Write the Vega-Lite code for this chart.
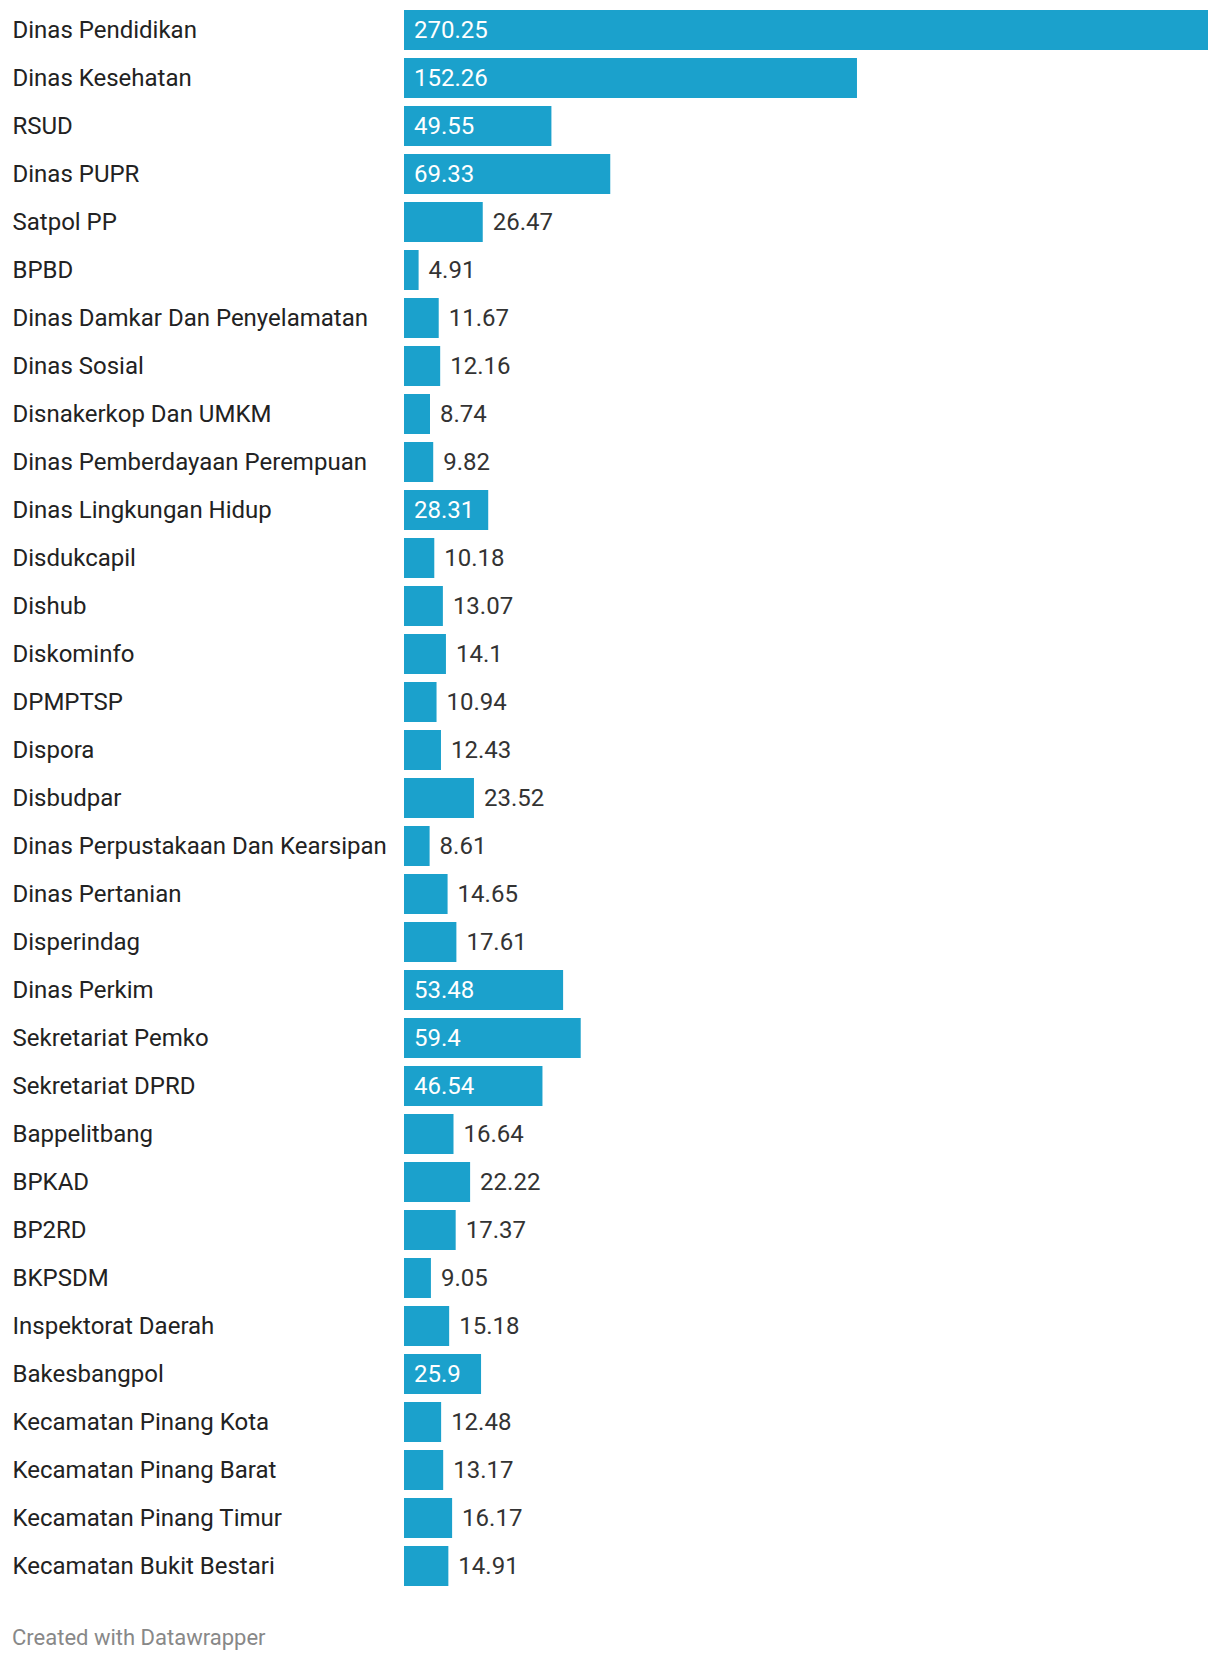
{
  "$schema": "https://vega.github.io/schema/vega-lite/v6.json",
  "width": 804,
  "height": 1584,
  "autosize": {"type": "pad"},
  "padding": {"left": 12, "top": 6, "right": 12, "bottom": 10},
  "background": "white",
  "config": {"view": {"stroke": null}, "font": "Roboto"},
  "title": {
    "text": "Created with Datawrapper",
    "orient": "bottom",
    "anchor": "start",
    "frame": "bounds",
    "font": "Roboto",
    "fontSize": 22,
    "fontWeight": "normal",
    "color": "#888888",
    "baseline": "top",
    "offset": 38
  },
  "data": {
    "values": [
      {"name": "Dinas Pendidikan", "value": 270.25},
      {"name": "Dinas Kesehatan", "value": 152.26},
      {"name": "RSUD", "value": 49.55},
      {"name": "Dinas PUPR", "value": 69.33},
      {"name": "Satpol PP", "value": 26.47},
      {"name": "BPBD", "value": 4.91},
      {"name": "Dinas Damkar Dan Penyelamatan", "value": 11.67},
      {"name": "Dinas Sosial", "value": 12.16},
      {"name": "Disnakerkop Dan UMKM", "value": 8.74},
      {"name": "Dinas Pemberdayaan Perempuan", "value": 9.82},
      {"name": "Dinas Lingkungan Hidup", "value": 28.31},
      {"name": "Disdukcapil", "value": 10.18},
      {"name": "Dishub", "value": 13.07},
      {"name": "Diskominfo", "value": 14.1},
      {"name": "DPMPTSP", "value": 10.94},
      {"name": "Dispora", "value": 12.43},
      {"name": "Disbudpar", "value": 23.52},
      {"name": "Dinas Perpustakaan Dan Kearsipan", "value": 8.61},
      {"name": "Dinas Pertanian", "value": 14.65},
      {"name": "Disperindag", "value": 17.61},
      {"name": "Dinas Perkim", "value": 53.48},
      {"name": "Sekretariat Pemko", "value": 59.4},
      {"name": "Sekretariat DPRD", "value": 46.54},
      {"name": "Bappelitbang", "value": 16.64},
      {"name": "BPKAD", "value": 22.22},
      {"name": "BP2RD", "value": 17.37},
      {"name": "BKPSDM", "value": 9.05},
      {"name": "Inspektorat Daerah", "value": 15.18},
      {"name": "Bakesbangpol", "value": 25.9},
      {"name": "Kecamatan Pinang Kota", "value": 12.48},
      {"name": "Kecamatan Pinang Barat", "value": 13.17},
      {"name": "Kecamatan Pinang Timur", "value": 16.17},
      {"name": "Kecamatan Bukit Bestari", "value": 14.91}
    ]
  },
  "transform": [
    {"calculate": "'' + datum.value", "as": "label"},
    {"calculate": "datum.value * 804 / 270.25 > length(datum.label) * 12 + 20", "as": "inside"},
    {"calculate": "datum.inside ? 0 : datum.value", "as": "labelx"}
  ],
  "encoding": {
    "y": {
      "field": "name",
      "type": "nominal",
      "sort": null,
      "scale": {"paddingInner": 0.16667, "paddingOuter": 0.08333},
      "axis": {
        "title": null,
        "ticks": false,
        "domain": false,
        "labelAlign": "left",
        "labelBaseline": "middle",
        "labelPadding": 392,
        "labelOffset": 1,
        "labelFont": "Roboto",
        "labelFontSize": 24,
        "labelColor": "#222222",
        "labelLimit": 400
      }
    }
  },
  "layer": [
    {
      "mark": {"type": "bar", "color": "#1ba1cc"},
      "encoding": {
        "x": {
          "field": "value",
          "type": "quantitative",
          "scale": {"domain": [0, 270.25], "nice": false, "zero": true},
          "axis": null
        }
      }
    },
    {
      "mark": {"type": "text", "align": "left", "baseline": "middle", "dx": 10, "dy": 1, "font": "Roboto", "fontSize": 24},
      "encoding": {
        "x": {"field": "labelx", "type": "quantitative"},
        "text": {"field": "label", "type": "nominal"},
        "color": {
          "condition": {"test": "datum.inside", "value": "#ffffff"},
          "value": "#333333"
        }
      }
    }
  ]
}
